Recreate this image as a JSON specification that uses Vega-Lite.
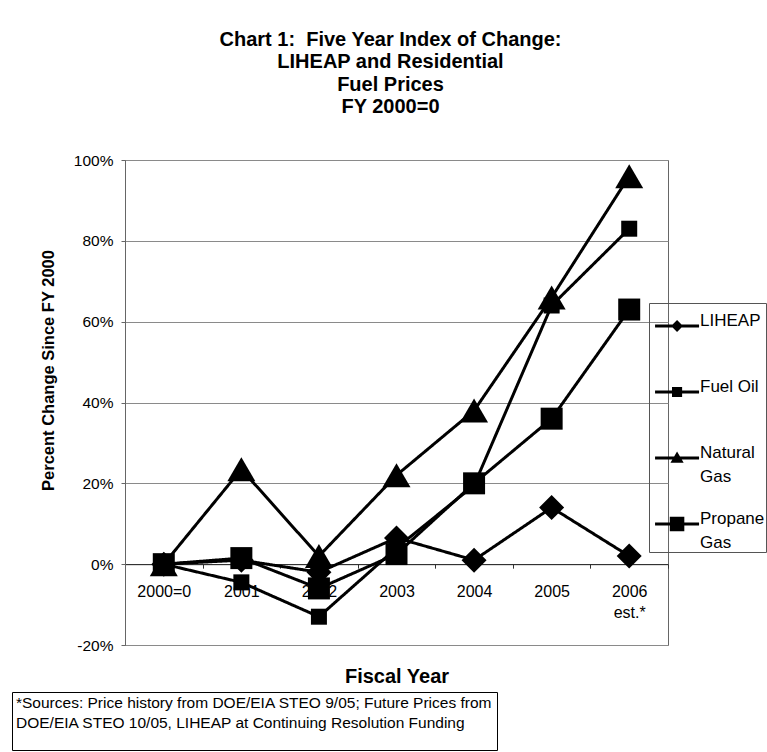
{
  "$schema": "https://vega.github.io/schema/vega-lite/v6.json",
  "width": 543,
  "height": 485,
  "autosize": {"type": "none"},
  "padding": {"left": 125, "top": 160, "right": 99, "bottom": 107},
  "background": "white",
  "title": {
    "text": ["Chart 1:\u00a0\u00a0Five Year Index of Change:", "LIHEAP and Residential", "Fuel Prices", "FY 2000=0"],
    "font": "Liberation Sans",
    "fontSize": 20,
    "fontWeight": "bold",
    "lineHeight": 22.3,
    "anchor": "middle",
    "frame": "group",
    "offset": 36,
    "dx": -6,
    "color": "black"
  },
  "config": {
    "font": "Liberation Sans",
    "view": {"stroke": "#666", "strokeWidth": 1},
    "axis": {"labelColor": "black", "titleColor": "black", "labelFont": "Liberation Sans", "titleFont": "Liberation Sans"},
    "legend": {"labelFont": "Liberation Sans", "titleFont": "Liberation Sans"},
    "style": {"guide-label": {"lineHeight": 23.5}}
  },
  "data": {
    "values": [
      {"series": "LIHEAP", "year": "2000=0", "value": 0},
      {"series": "LIHEAP", "year": "2001", "value": 1},
      {"series": "LIHEAP", "year": "2002", "value": -2},
      {"series": "LIHEAP", "year": "2003", "value": 6.5},
      {"series": "LIHEAP", "year": "2004", "value": 1},
      {"series": "LIHEAP", "year": "2005", "value": 14},
      {"series": "LIHEAP", "year": "2006", "value": 2},
      {"series": "Fuel Oil", "year": "2000=0", "value": 0},
      {"series": "Fuel Oil", "year": "2001", "value": -4.5},
      {"series": "Fuel Oil", "year": "2002", "value": -13},
      {"series": "Fuel Oil", "year": "2003", "value": 4},
      {"series": "Fuel Oil", "year": "2004", "value": 19.5},
      {"series": "Fuel Oil", "year": "2005", "value": 64},
      {"series": "Fuel Oil", "year": "2006", "value": 83},
      {"series": "Natural Gas", "year": "2000=0", "value": 0},
      {"series": "Natural Gas", "year": "2001", "value": 23.5},
      {"series": "Natural Gas", "year": "2002", "value": 2},
      {"series": "Natural Gas", "year": "2003", "value": 22},
      {"series": "Natural Gas", "year": "2004", "value": 38},
      {"series": "Natural Gas", "year": "2005", "value": 66},
      {"series": "Natural Gas", "year": "2006", "value": 96},
      {"series": "Propane Gas", "year": "2000=0", "value": 0},
      {"series": "Propane Gas", "year": "2001", "value": 1.5},
      {"series": "Propane Gas", "year": "2002", "value": -6},
      {"series": "Propane Gas", "year": "2003", "value": 2.5},
      {"series": "Propane Gas", "year": "2004", "value": 20},
      {"series": "Propane Gas", "year": "2005", "value": 36},
      {"series": "Propane Gas", "year": "2006", "value": 63}
    ]
  },
  "encoding": {
    "x": {
      "field": "year",
      "type": "ordinal",
      "scale": {"type": "band", "domain": ["2000=0", "2001", "2002", "2003", "2004", "2005", "2006"], "paddingInner": 0, "paddingOuter": 0},
      "axis": {
        "title": "Fiscal Year",
        "offset": -80.83,
        "tickBand": "extent",
        "labelAngle": 0,
        "labelExpr": "datum.value == '2006' ? ['2006', '\u00a0est.*'] : datum.value",
        "labelFontSize": 16,
        "labelLineHeight": 21,
        "labelPadding": 15,
        "tickSize": 4,
        "tickColor": "#333",
        "domainColor": "#222",
        "titleFontSize": 20,
        "titleFontWeight": "bold",
        "titleX": 271.5,
        "titleY": 112,
        "titleBaseline": "middle",
        "titleAlign": "center"
      }
    },
    "y": {
      "field": "value",
      "type": "quantitative",
      "scale": {"domain": [-20, 100], "nice": false, "zero": false},
      "axis": {
        "values": [-20, 0, 20, 40, 60, 80, 100],
        "labelExpr": "datum.value + '%'",
        "title": "Percent Change Since FY 2000",
        "titleFontSize": 16.5,
        "titleFontWeight": "bold",
        "titleX": -77,
        "titleY": 210,
        "titleAngle": -90,
        "titleAlign": "center",
        "titleBaseline": "middle",
        "labelFontSize": 15.5,
        "labelPadding": 8,
        "tickSize": 4,
        "tickColor": "#666",
        "domainColor": "#666",
        "gridColor": "#8a8a8a",
        "grid": true
      }
    }
  },
  "layer": [
    {
      "mark": {"type": "line", "color": "black", "strokeWidth": 3},
      "encoding": {
        "detail": {"field": "series"},
        "strokeDash": {
          "datum": "note",
          "type": "nominal",
          "scale": {"range": [[1, 0]]},
          "legend": {
            "orient": "none",
            "legendX": -113,
            "legendY": 532,
            "title": ["*Sources: Price history from DOE/EIA STEO 9/05; Future Prices from", "DOE/EIA STEO 10/05, LIHEAP at Continuing Resolution Funding"],
            "titleFontWeight": "normal",
            "titleFontSize": 15.5,
            "titleLineHeight": 20,
            "titleColor": "black",
            "titleLimit": 1000,
            "strokeColor": "black",
            "padding": 4,
            "labelExpr": "''",
            "symbolOpacity": 0,
            "symbolSize": 0,
            "titlePadding": 4
          }
        }
      }
    },
    {
      "mark": {"type": "point", "filled": true, "color": "black", "opacity": 1, "size": 100},
      "encoding": {
        "shape": {
          "field": "series",
          "type": "nominal",
          "scale": {
            "domain": ["LIHEAP", "Fuel Oil", "Natural Gas", "Propane Gas"],
            "range": ["M0,-2.5L2.5,0L0,2.5L-2.5,0Z", "M-1.6,-1.6H1.6V1.6H-1.6Z", "M0,-2.4L2.8,2.4H-2.8Z", "M-2.2,-2.2H2.2V2.2H-2.2Z"]
          },
          "legend": null
        }
      }
    },
    {
      "mark": {"type": "point", "filled": true, "color": "black", "opacity": 0, "size": 1},
      "encoding": {
        "shape": {
          "field": "series",
          "type": "nominal",
          "scale": {
            "domain": ["LIHEAP", "Fuel Oil", "Natural Gas", "Propane Gas"],
            "range": [
              "M-0.77,-0.07H1.23V0.07H-0.77ZM0.23,-0.27L0.5,0L0.23,0.27L-0.04,0Z",
              "M-0.77,-0.07H1.23V0.07H-0.77ZM0,-0.23H0.46V0.23H0Z",
              "M-0.77,-0.07H1.23V0.07H-0.77ZM0.23,-0.3L0.53,0.22H-0.07Z",
              "M-0.77,-0.07H1.23V0.07H-0.77ZM-0.1,-0.33H0.56V0.33H-0.1Z"
            ]
          },
          "legend": {
            "orient": "none",
            "legendX": 524,
            "legendY": 143,
            "title": null,
            "strokeColor": "#555",
            "padding": 1,
            "symbolSize": 1936,
            "symbolOpacity": 1,
            "symbolFillColor": "black",
            "symbolStrokeWidth": 0,
            "labelFontSize": 17,
            "labelColor": "black",
            "labelOffset": 6,
            "labelBaseline": "alphabetic",
            "rowPadding": 17,
            "labelExpr": "datum.label == 'Natural Gas' ? ['Natural', 'Gas'] : datum.label == 'Propane Gas' ? ['Propane', 'Gas'] : [datum.label, '']",
            "encode": {
              "symbols": {
                "update": {
                  "fill": {"value": "black"},
                  "opacity": {"value": 1}
                }
              },
              "labels": {
                "update": {"dy": {"value": 6}, "lineHeight": {"value": 23.5}}
              }
            }
          }
        }
      }
    }
  ],
  "resolve": {"scale": {"shape": "independent"}, "legend": {"shape": "independent"}}
}
